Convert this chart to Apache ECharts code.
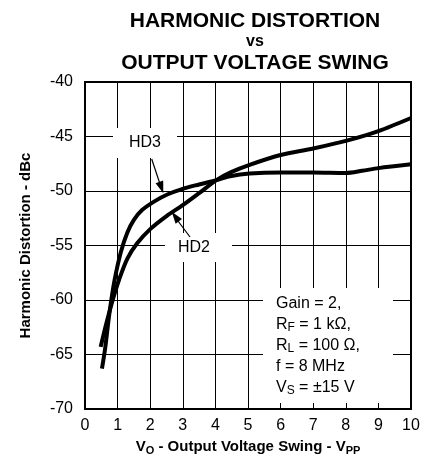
<!DOCTYPE html>
<html>
<head>
<meta charset="utf-8">
<script src="https://cdn.jsdelivr.net/npm/echarts@6/dist/echarts.min.js"></script>
<style>
  html, body { margin: 0; padding: 0; background: #fff; }
  #chart { width: 439px; height: 463px; }
</style>
</head>
<body>
<div id="chart"></div>
<script>
// values (x = Vpp, y = dBc)
const hd3X = [0.52, 0.62, 0.75, 0.9, 1.1, 1.3, 1.5, 1.75, 2.13, 2.54, 3.0, 3.5, 4.03, 4.45, 5.05, 6, 7, 8, 8.5, 9, 10]
const hd3Y = [-66.3, -64.4, -61.2, -58.3, -55.6, -53.8, -52.65, -51.75, -50.95, -50.3, -49.8, -49.4, -49.0, -48.65, -48.4, -48.3, -48.3, -48.35, -48.15, -47.9, -47.55]
const hd2X = [0.48, 0.65, 0.85, 1.05, 1.3, 1.6, 2.0, 2.5, 3.0, 3.5, 4.03, 4.5, 5.05, 6, 7, 8, 9, 10]
const hd2Y = [-64.3, -62.2, -60.0, -58.1, -56.2, -54.8, -53.5, -52.3, -51.3, -50.2, -49.0, -48.25, -47.6, -46.7, -46.1, -45.4, -44.5, -43.3]
const xTicks = [0, 1, 2, 3, 4, 5, 6, 7, 8, 9, 10]
const yTicks = [-70, -65, -60, -55, -50, -45, -40]

const font = "'Liberation Sans', Arial, sans-serif"
const zip = (xs, ys) => xs.map((x, i) => [x, ys[i]])

var myChart = echarts.init(document.getElementById("chart"))

let option = {
  animation: false,
  backgroundColor: "#fff",
  textStyle: { fontFamily: font, color: "#000" },
  title: {
    text: "{a|HARMONIC DISTORTION}\n{b|vs}\n{a|OUTPUT VOLTAGE SWING}",
    left: 250,
    top: 5,
    textAlign: "center",
    textStyle: {
      rich: {
        a: { fontSize: 21, fontWeight: "bold", fontFamily: font, color: "#000", lineHeight: 22, align: "center" },
        b: { fontSize: 16, fontWeight: "bold", fontFamily: font, color: "#000", lineHeight: 20, align: "center" }
      }
    }
  },
  grid: {
    left: 85, right: 28, top: 82, bottom: 54,
    show: true, borderColor: "#000", borderWidth: 2
  },
  xAxis: {
    type: "value",
    min: xTicks[0], max: xTicks[xTicks.length - 1], interval: 1,
    axisLine: { lineStyle: { color: "#000", width: 2 } },
    axisTick: { show: false },
    splitLine: { show: true, lineStyle: { color: "#000", width: 1 } },
    axisLabel: { color: "#000", fontSize: 16, fontFamily: font, margin: 9 },
    name: "V{s|O} - Output Voltage Swing - V{s|PP}",
    nameLocation: "middle",
    nameGap: 29,
    nameTextStyle: {
      fontSize: 15, fontWeight: "bold", fontFamily: font, color: "#000",
      rich: { s: { fontSize: 11, fontWeight: "bold", fontFamily: font, color: "#000", padding: [7, 0, 0, 0] } }
    }
  },
  yAxis: {
    type: "value",
    min: yTicks[0], max: yTicks[yTicks.length - 1], interval: 5,
    axisLine: { show: true, lineStyle: { color: "#000", width: 2 } },
    axisTick: { show: false },
    splitLine: { show: true, lineStyle: { color: "#000", width: 1 } },
    axisLabel: { color: "#000", fontSize: 16, fontFamily: font, margin: 12 },
    name: "Harmonic Distortion - dBc",
    nameLocation: "middle",
    nameGap: 52,
    nameTextStyle: { fontSize: 15, fontWeight: "bold", fontFamily: font, color: "#000" }
  },
  series: [
    {
      name: "HD3", type: "line", data: zip(hd3X, hd3Y),
      smooth: 0.3, showSymbol: false, z: 5,
      lineStyle: { color: "#000", width: 4 }
    },
    {
      name: "HD2", type: "line", data: zip(hd2X, hd2Y),
      smooth: 0.3, showSymbol: false, z: 5,
      lineStyle: { color: "#000", width: 4 }
    }
  ],
  graphic: [
    // white boxes behind the labels (break the grid)
    { type: "rect", z: 3, shape: { x: 113, y: 128, width: 64, height: 30 }, style: { fill: "#fff" } },
    { type: "rect", z: 3, shape: { x: 165, y: 233, width: 67, height: 29 }, style: { fill: "#fff" } },
    { type: "rect", z: 3, shape: { x: 263, y: 288, width: 130, height: 115 }, style: { fill: "#fff" } },
    { type: "text", z: 4, left: 129, top: 135, style: { text: "HD3", fontSize: 16, fontFamily: font, fill: "#000" } },
    { type: "text", z: 4, left: 178, top: 240, style: { text: "HD2", fontSize: 16, fontFamily: font, fill: "#000" } },
    // arrows
    { type: "line", z: 4, shape: { x1: 151.7, y1: 159, x2: 160, y2: 184 }, style: { stroke: "#000", lineWidth: 1.2 } },
    { type: "polygon", z: 4, shape: { points: [[163.3, 193.3], [155.6, 183.2], [163.2, 180.6]] }, style: { fill: "#000" } },
    { type: "line", z: 4, shape: { x1: 190, y1: 237, x2: 178, y2: 221 }, style: { stroke: "#000", lineWidth: 1.2 } },
    { type: "polygon", z: 4, shape: { points: [[171.7, 211.7], [182, 219], [175.6, 223.8]] }, style: { fill: "#000" } },
    // conditions
    {
      type: "text", z: 4, left: 276, top: 293,
      style: {
        text: "Gain = 2,\nR{s|F} = 1 kΩ,\nR{s|L} = 100 Ω,\nf = 8 MHz\nV{s|S} = ±15 V",
        fontSize: 16, fontFamily: font, fill: "#000", lineHeight: 21,
        rich: { s: { fontSize: 12, fontFamily: font, fill: "#000", padding: [7, 0, 0, 0] } }
      }
    }
  ]
}

myChart.setOption(option)

window.onresize = () => {
  myChart.resize()
}
</script>
</body>
</html>
